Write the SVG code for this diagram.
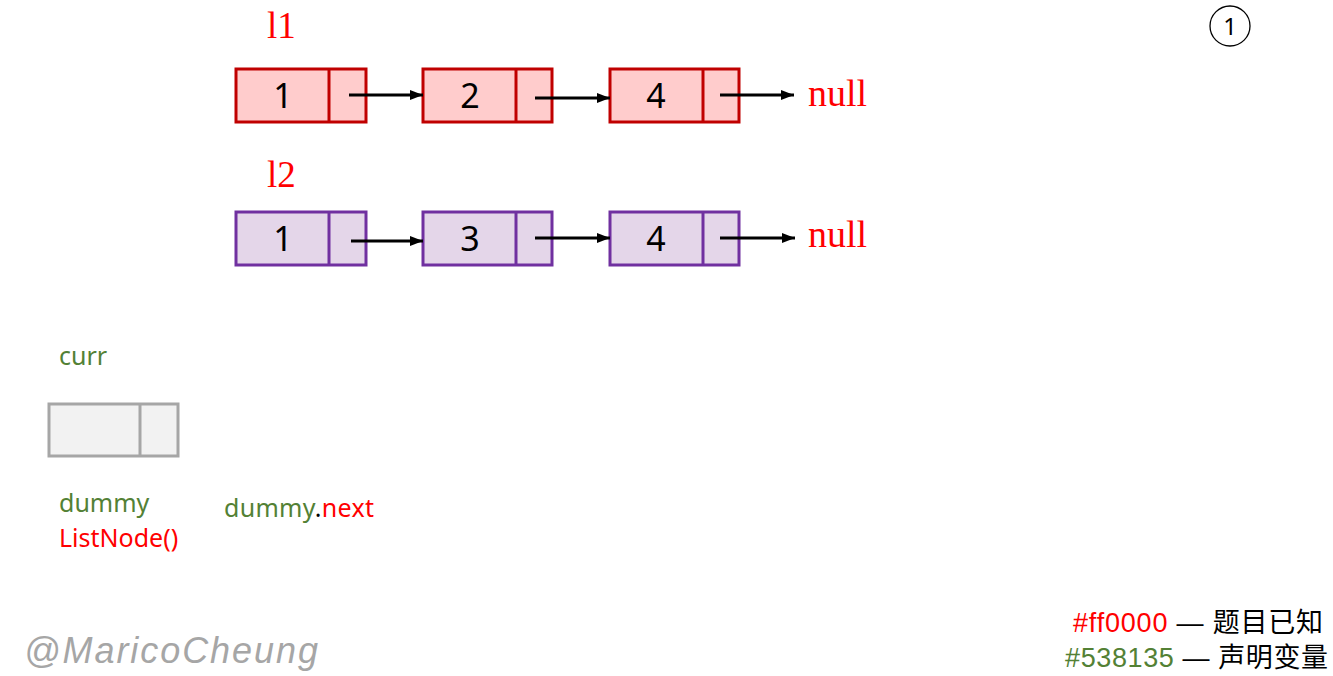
<svg xmlns="http://www.w3.org/2000/svg" width="1333" height="676" viewBox="0 0 1333 676">
<style>
.r{fill:#FFCCCC;stroke:#C00000;stroke-width:3}
.p{fill:#E4D6E9;stroke:#7030A0;stroke-width:3}
.g{fill:#F2F2F2;stroke:#A6A6A6;stroke-width:3}
.v{font-family:"Noto Sans","Liberation Sans",sans-serif;font-size:34px;fill:#000;text-anchor:middle}
.ser{font-family:"Liberation Serif",serif;fill:#FF0000}
.lab{font-family:"Noto Sans","Liberation Sans",sans-serif;font-size:25px}
.ar{stroke:#000;stroke-width:3;fill:none;marker-end:url(#ah)}
</style>
<defs>
<marker id="ah" markerWidth="13" markerHeight="10" refX="13" refY="5" orient="auto" markerUnits="userSpaceOnUse">
<path d="M0,0 L13,5 L0,10 Z" fill="#000"/>
</marker>
</defs>
<rect width="1333" height="676" fill="#fff"/>
<text class="ser" x="267" y="38" font-size="37">l1</text>
<text class="ser" x="267" y="187" font-size="37">l2</text>
<g id="l1n1"><rect class="r" x="236" y="69" width="130" height="53"/><line class="r" x1="329" y1="69" x2="329" y2="122"/><text class="v" x="283" y="108">1</text></g>
<g id="l1n2"><rect class="r" x="423" y="69" width="129" height="53"/><line class="r" x1="516" y1="69" x2="516" y2="122"/><text class="v" x="470" y="108">2</text></g>
<g id="l1n3"><rect class="r" x="610" y="69" width="129" height="53"/><line class="r" x1="703" y1="69" x2="703" y2="122"/><text class="v" x="656" y="108">4</text></g>
<g id="l2n1"><rect class="p" x="236" y="212" width="130" height="53"/><line class="p" x1="329" y1="212" x2="329" y2="265"/><text class="v" x="283" y="251">1</text></g>
<g id="l2n2"><rect class="p" x="423" y="212" width="129" height="53"/><line class="p" x1="516" y1="212" x2="516" y2="265"/><text class="v" x="470" y="251">3</text></g>
<g id="l2n3"><rect class="p" x="610" y="212" width="129" height="53"/><line class="p" x1="703" y1="212" x2="703" y2="265"/><text class="v" x="656" y="251">4</text></g>
<g id="dummy"><rect class="g" x="49" y="404" width="129" height="52"/><line class="g" x1="140" y1="404" x2="140" y2="456"/></g>
<g id="connectors">
<line class="ar" x1="349" y1="95" x2="423" y2="95"/>
<line class="ar" x1="535" y1="98" x2="610" y2="98"/>
<line class="ar" x1="720" y1="95" x2="794" y2="95"/>
<line class="ar" x1="351" y1="241" x2="423" y2="241"/>
<line class="ar" x1="535" y1="238" x2="610" y2="238"/>
<line class="ar" x1="720" y1="238" x2="795" y2="238"/>
</g>
<text class="ser" x="808" y="106" font-size="38">null</text>
<text class="ser" x="808" y="247" font-size="38">null</text>
<g id="step"><circle cx="1230" cy="26" r="20" fill="none" stroke="#000" stroke-width="1.3"/><text x="1230" y="35" text-anchor="middle" font-family="Noto Sans,Liberation Sans,sans-serif" font-size="24">1</text></g>
<text class="lab" x="59" y="365" fill="#538135">curr</text>
<text class="lab" x="59" y="512" fill="#538135">dummy</text>
<text class="lab" x="59" y="547" fill="#FF0000">ListNode()</text>
<text class="lab" x="224" y="517" textLength="150"><tspan fill="#538135">dummy</tspan><tspan fill="#000">.</tspan><tspan fill="#FF0000">next</tspan></text>
<text x="24" y="663" font-family="Liberation Sans,sans-serif" font-style="italic" font-size="36" fill="#A6A6A6" textLength="294">@MaricoCheung</text>
<text x="1323" y="632" text-anchor="end" font-family="Liberation Sans,Noto Sans CJK SC,sans-serif" font-size="27" textLength="250"><tspan fill="#FF0000">#ff0000</tspan><tspan fill="#000"> — 题目已知</tspan></text>
<text x="1328" y="667" text-anchor="end" font-family="Liberation Sans,Noto Sans CJK SC,sans-serif" font-size="27" textLength="263"><tspan fill="#538135">#538135</tspan><tspan fill="#000"> — 声明变量</tspan></text>
</svg>
